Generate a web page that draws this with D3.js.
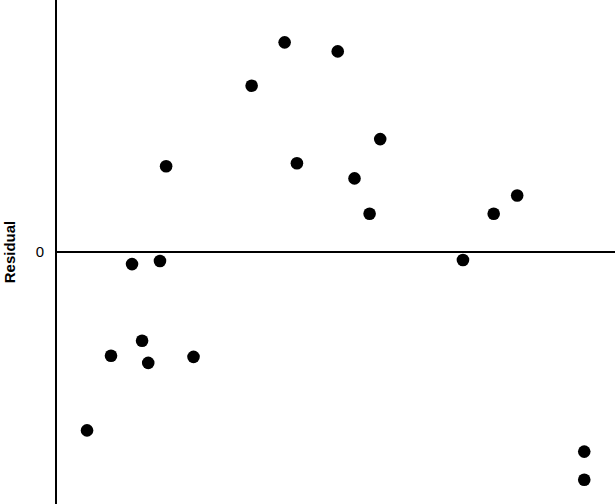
<!DOCTYPE html>
<html>
<head>
<meta charset="utf-8">
<script src="https://cdn.jsdelivr.net/npm/d3@7"></script>
<style>
  body { margin: 0; background: #fff; }
  svg { display: block; }
</style>
</head>
<body>
<svg width="615" height="504"></svg>
<script>
// fitted value (x) and residual (y) for each observation
const fitted = [0.555, 0.984, 1.36, 1.54, 1.65, 1.86, 1.97, 2.46, 3.50, 4.09,
                4.31, 5.04, 5.34, 5.61, 5.80, 7.28, 7.83, 8.25, 9.45, 9.45]
const residual = [-1.77, -1.03, -0.12, -0.88, -1.10, -0.09, 0.85, -1.04, 1.65, 2.08,
                  0.88, 1.99, 0.73, 0.38, 1.12, -0.08, 0.38, 0.56, -1.98, -2.26]
const yTicks = [0]

const svg = d3.select("svg")
const W = 615, H = 504

const x = d3.scaleLinear().domain([0, 10]).range([56, W])
const y = d3.scaleLinear().domain([-2.5, 2.5]).range([H, 0])

// y axis line
svg.append("line")
    .attr("x1", x(0)).attr("x2", x(0))
    .attr("y1", 0).attr("y2", H)
    .attr("stroke", "black")
    .attr("stroke-width", 2)

// zero reference line
svg.append("line")
    .attr("x1", x(0)).attr("x2", W)
    .attr("y1", y(0)).attr("y2", y(0))
    .attr("stroke", "black")
    .attr("stroke-width", 2)

svg.selectAll("text.tick")
    .data(yTicks)
    .enter()
    .append("text")
    .attr("class", "tick")
    .attr("x", 44)
    .attr("y", d => y(d))
    .attr("dy", "0.36em")
    .attr("text-anchor", "end")
    .style("font-family", "Liberation Sans, Arial, sans-serif")
    .style("font-size", "15px")
    .text(d => d)

svg.append("text")
    .attr("transform", "translate(15," + y(0) + ") rotate(-90)")
    .attr("text-anchor", "middle")
    .style("font-family", "Liberation Sans, Arial, sans-serif")
    .style("font-size", "15px")
    .style("font-weight", "bold")
    .text("Residual")

svg.selectAll("circle")
    .data(fitted.map((f, i) => [f, residual[i]]))
    .enter()
    .append("circle")
    .attr("cx", d => x(d[0]))
    .attr("cy", d => y(d[1]))
    .attr("r", 6.3)
    .attr("fill", "black")
</script>
</body>
</html>
